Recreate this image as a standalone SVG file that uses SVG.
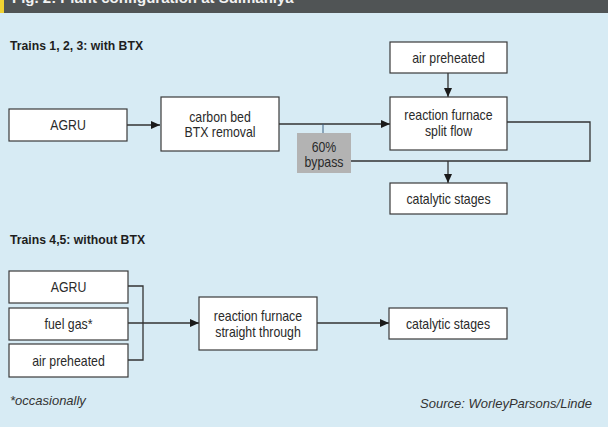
<svg xmlns="http://www.w3.org/2000/svg" width="608" height="427" viewBox="0 0 608 427">
<style>
.box{fill:#fff;stroke:#3a3a3a;stroke-width:1.2}
.t{font-family:"Liberation Sans",Arial,sans-serif;font-size:14px;fill:#2a2a2a;text-anchor:middle}
.h{font-family:"Liberation Sans",Arial,sans-serif;font-size:13px;font-weight:bold;fill:#1e1e1e}
.it{font-family:"Liberation Sans",Arial,sans-serif;font-size:13px;font-style:italic;fill:#333}
.ln{fill:none;stroke:#333;stroke-width:1.3}
</style>
<defs>
<marker id="ah" markerWidth="9" markerHeight="8" refX="9" refY="4" orient="auto" markerUnits="userSpaceOnUse">
<path d="M0,0 L9,4 L0,8 Z" fill="#1a1a1a"/>
</marker>
</defs>
<rect width="608" height="427" fill="#d7ebf4"/>
<g id="header">
<rect width="608" height="13" fill="#505455"/>
<rect width="4" height="13" fill="#f0d232"/>
<text x="12" y="3" font-family="Liberation Sans, Arial, sans-serif" font-size="15" font-weight="bold" fill="#f2f2f2">Fig. 2: Plant configuration at Sulmaniya</text>
</g>
<text class="h" transform="translate(10,50) scale(0.94,1)">Trains 1, 2, 3: with BTX</text>
<text class="h" transform="translate(10,244) scale(0.94,1)">Trains 4,5: without BTX</text>
<g id="connectors">
<path class="ln" d="M127,125 H160" marker-end="url(#ah)"/>
<path class="ln" d="M279,124 H390" marker-end="url(#ah)"/>
<path d="M323,124 V133" stroke="#3d5f80" stroke-width="1" fill="none"/>
<path class="ln" d="M448,73 V97" marker-end="url(#ah)"/>
<path class="ln" d="M507,122 H590 V161 H351"/>
<path class="ln" d="M448,161 V183" marker-end="url(#ah)"/>
<path class="ln" d="M128,286 H143 V360 H128"/>
<path class="ln" d="M128,323 H199" marker-end="url(#ah)"/>
<path class="ln" d="M317,323 H389" marker-end="url(#ah)"/>
</g>
<g id="agru1"><rect class="box" x="9" y="109" width="118" height="32"/><text class="t" transform="translate(68,130) scale(0.88,1)">AGRU</text></g>
<g id="carbonbed"><rect class="box" x="161" y="97" width="118" height="54"/><text class="t" transform="translate(220,121.5) scale(0.88,1)">carbon bed</text><text class="t" transform="translate(220,136.5) scale(0.88,1)">BTX removal</text></g>
<g id="airpre1"><rect class="box" x="390" y="42" width="117" height="31"/><text class="t" transform="translate(448.5,62.5) scale(0.88,1)">air preheated</text></g>
<g id="furnace1"><rect class="box" x="390" y="97" width="117" height="53"/><text class="t" transform="translate(448.5,119.5) scale(0.88,1)">reaction furnace</text><text class="t" transform="translate(448.5,136) scale(0.88,1)">split flow</text></g>
<g id="bypass"><rect x="297" y="133" width="54" height="40" fill="#b3b3b3"/><text class="t" transform="translate(324,151.5) scale(0.88,1)">60%</text><text class="t" transform="translate(324,166.5) scale(0.88,1)">bypass</text></g>
<g id="catalytic1"><rect class="box" x="390" y="183" width="117" height="31"/><text class="t" transform="translate(448.5,203.5) scale(0.88,1)">catalytic stages</text></g>
<g id="agru2"><rect class="box" x="9" y="271" width="119" height="32"/><text class="t" transform="translate(68.5,292) scale(0.88,1)">AGRU</text></g>
<g id="fuelgas"><rect class="box" x="9" y="308" width="119" height="32"/><text class="t" transform="translate(68.5,329) scale(0.88,1)">fuel gas*</text></g>
<g id="airpre2"><rect class="box" x="9" y="344" width="119" height="33"/><text class="t" transform="translate(68.5,365.5) scale(0.88,1)">air preheated</text></g>
<g id="furnace2"><rect class="box" x="199" y="297" width="118" height="53"/><text class="t" transform="translate(258,321) scale(0.88,1)">reaction furnace</text><text class="t" transform="translate(258,337) scale(0.88,1)">straight through</text></g>
<g id="catalytic2"><rect class="box" x="389" y="308" width="118" height="31"/><text class="t" transform="translate(448,328.5) scale(0.88,1)">catalytic stages</text></g>
<text class="it" x="10" y="405">*occasionally</text>
<text class="it" x="592" y="408" text-anchor="end">Source: WorleyParsons/Linde</text>
</svg>
